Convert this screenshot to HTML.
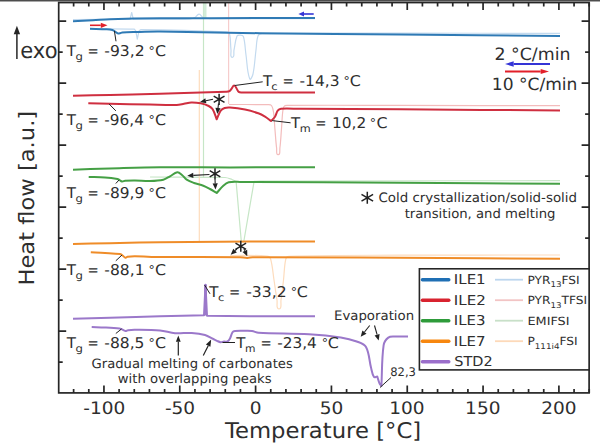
<!DOCTYPE html>
<html><head><meta charset="utf-8"><style>
html,body{margin:0;padding:0;background:#fff;}
svg{display:block;}
text{font-family:"DejaVu Sans","Liberation Sans",sans-serif;fill:#2e2e2e;}
</style></head><body>
<svg width="600" height="444" viewBox="0 0 600 444" text-rendering="geometricPrecision">
<rect x="0" y="0" width="600" height="444" fill="#fff"/>
<rect x="0" y="0" width="600" height="1" fill="#4d4d4d"/>
<rect x="0" y="1" width="600" height="1" fill="#a8a8a8"/>
<g fill="none" stroke-width="1.2" stroke-linejoin="round">
 <path stroke="#c3daef" d="M73.00 19.50C92.00 19.43 111.00 19.37 130.00 19.30C130.57 17.03 131.13 14.77 131.70 12.50C132.23 14.73 132.77 16.97 133.30 19.20C152.20 19.10 171.11 19.42 190.00 18.90C191.73 18.85 193.47 18.30 195.00 17.50C196.53 16.70 197.27 14.24 199.00 14.20C200.69 14.16 201.43 16.67 203.00 17.30C205.20 18.18 207.63 18.57 210.00 18.60C245.00 19.01 280.00 18.60 315.00 18.60"/>
 <path stroke="#c3daef" d="M90.00 28.80C104.67 28.93 119.35 28.50 134.00 29.20C134.85 29.24 135.20 30.40 135.80 31.00C136.30 33.73 136.80 36.47 137.30 39.20C137.87 36.47 138.43 33.73 139.00 31.00C139.67 30.53 140.19 29.59 141.00 29.60C169.34 29.86 197.68 30.55 226.00 31.80C227.27 31.86 229.06 32.28 229.40 33.50C230.86 38.83 230.33 44.51 231.00 50.00C231.30 52.45 229.83 57.30 232.30 57.30C234.80 57.30 233.46 52.44 234.00 50.00C235.03 45.34 235.21 40.42 237.00 36.00C237.39 35.04 238.97 35.12 240.00 35.20C241.21 35.29 243.05 35.34 243.40 36.50C245.21 42.46 245.08 48.84 246.00 55.00C247.18 62.97 246.91 71.34 249.70 78.90C250.38 80.75 252.58 75.92 253.00 74.00C254.72 66.12 254.95 57.99 256.00 50.00C256.61 45.33 256.38 40.43 258.00 36.00C258.53 34.54 260.45 33.63 262.00 33.60C307.99 32.69 354.00 33.23 400.00 33.20C453.33 33.16 506.67 33.33 560.00 33.40"/>
 <path stroke="#f6cccc" d="M228.60 2.50C228.60 36.33 228.60 70.17 228.60 104.00"/>
 <path stroke="#f3bcbc" d="M229.00 104.50C242.00 104.57 255.00 104.39 268.00 104.70C269.20 104.73 270.78 104.54 271.50 105.50C272.86 107.31 273.18 109.76 273.50 112.00C274.35 117.96 274.48 124.00 275.00 130.00C275.52 136.00 275.83 142.03 276.60 148.00C276.90 150.28 275.90 154.70 278.20 154.70C280.50 154.70 279.60 150.29 279.90 148.00C280.67 142.03 280.93 136.00 281.40 130.00C281.87 124.00 282.04 117.98 282.70 112.00C282.91 110.13 282.97 108.08 284.00 106.50C284.58 105.61 285.93 105.41 287.00 105.40C324.66 105.04 362.33 105.36 400.00 105.40C453.33 105.46 506.67 105.60 560.00 105.70"/>
 <path stroke="#c6e6c6" d="M203.50 2.50C203.50 61.00 203.50 119.50 203.50 178.00"/>
 <path stroke="#c6e6c6" d="M150.00 177.00C175.00 177.17 200.01 176.74 225.00 177.50C227.43 177.57 229.71 178.70 232.00 179.50C233.42 180.00 234.73 180.77 236.10 181.40C237.83 201.43 239.57 221.47 241.30 241.50C242.13 241.50 242.97 241.50 243.80 241.50C247.23 221.47 250.67 201.43 254.10 181.40C256.07 181.27 258.03 181.00 260.00 181.00C360.00 180.77 460.00 180.80 560.00 180.70"/>
 <path stroke="#fddcbd" d="M199.30 70.00C199.30 127.20 199.30 184.40 199.30 241.60"/>
 <path stroke="#fddcbd" d="M230.00 255.50C242.33 255.67 254.71 254.94 267.00 256.00C268.56 256.13 270.16 257.50 270.60 259.00C272.59 265.81 272.91 272.99 274.00 280.00C275.04 286.66 275.85 293.36 277.00 300.00C277.52 303.03 275.93 309.00 279.00 309.00C282.07 309.00 280.53 303.04 281.00 300.00C282.03 293.36 282.72 286.67 283.50 280.00C284.32 273.01 284.21 265.86 285.80 259.00C286.12 257.64 287.61 256.35 289.00 256.30C325.98 255.07 363.00 255.38 400.00 255.20C453.33 254.94 506.67 255.07 560.00 255.00"/>
 <path stroke="#d3ecd8" stroke-width="3" d="M205 2.5 L205 18"/>
</g>
<g fill="none" stroke-width="2" stroke-linejoin="round" stroke-linecap="butt">
 <path stroke="#2f7ab5" d="M73.00 21.20C79.67 20.90 86.34 20.66 93.00 20.30C98.67 19.99 104.32 19.37 110.00 19.20C126.66 18.70 143.33 18.42 160.00 18.30C193.33 18.06 226.67 18.14 260.00 18.10C278.33 18.08 296.67 18.10 315.00 18.10"/>
 <path stroke="#2f7ab5" d="M90.00 28.80C95.57 28.97 101.14 29.08 106.70 29.30C107.80 29.34 108.92 29.38 110.00 29.60C111.43 29.89 112.87 30.20 114.20 30.80C114.91 31.12 115.36 31.85 116.00 32.30C116.63 32.75 117.33 33.10 118.00 33.50C118.67 33.40 119.34 33.35 120.00 33.20C120.78 33.02 121.50 32.56 122.30 32.50C126.52 32.16 130.76 32.10 135.00 32.00C143.33 31.80 151.67 31.52 160.00 31.60C193.34 31.92 226.67 32.78 260.00 33.20C306.67 33.78 353.33 34.18 400.00 34.60C453.33 35.08 506.67 35.47 560.00 35.90"/>
 <path stroke="#cf2f40" d="M73.00 95.70C85.33 95.47 97.67 95.28 110.00 95.00C126.67 94.62 143.33 94.16 160.00 93.70C182.00 93.09 204.01 92.59 226.00 91.80C227.18 91.76 228.49 91.81 229.50 91.20C230.56 90.56 231.02 89.25 231.80 88.30C232.58 87.35 232.97 85.45 234.20 85.50C235.48 85.55 235.86 87.45 236.60 88.50C237.37 89.59 237.62 91.12 238.70 91.90C239.60 92.55 240.89 92.37 242.00 92.40C248.00 92.54 254.00 92.40 260.00 92.40C278.33 92.40 296.67 92.40 315.00 92.40"/>
 <path stroke="#cf2f40" d="M88.30 103.30C95.53 103.43 102.77 103.55 110.00 103.70C123.33 103.98 136.67 104.34 150.00 104.60C158.90 104.77 167.80 105.21 176.70 105.00C179.17 104.94 181.57 104.23 184.00 103.80C186.44 103.37 188.82 102.47 191.30 102.40C194.45 102.31 197.62 102.66 200.70 103.30C203.46 103.87 206.18 104.74 208.70 106.00C210.25 106.77 211.81 107.82 212.70 109.30C214.55 112.38 215.37 115.97 216.70 119.30C218.03 116.43 218.87 113.28 220.70 110.70C221.63 109.39 223.18 108.52 224.70 108.00C226.38 107.42 228.23 107.36 230.00 107.50C235.03 107.90 240.05 108.59 245.00 109.60C249.51 110.52 253.96 111.76 258.30 113.30C260.66 114.14 262.86 115.40 265.00 116.70C267.10 117.98 269.00 119.57 271.00 121.00C272.33 119.57 273.93 118.34 275.00 116.70C276.20 114.86 276.38 112.45 277.70 110.70C278.47 109.67 279.72 108.81 281.00 108.70C287.31 108.16 293.67 108.77 300.00 108.80C333.33 108.97 366.67 109.08 400.00 109.30C453.33 109.65 506.67 110.10 560.00 110.50"/>
 <path stroke="#45a045" d="M73.00 169.70C85.33 169.30 97.67 168.85 110.00 168.50C126.67 168.02 143.33 167.35 160.00 167.20C183.33 166.99 206.67 167.40 230.00 167.40C258.33 167.40 286.67 167.27 315.00 167.20"/>
 <path stroke="#45a045" d="M88.70 177.00C94.13 177.17 99.58 177.12 105.00 177.50C109.19 177.79 113.36 178.29 117.50 179.00C118.23 179.13 118.85 179.64 119.50 180.00C120.35 180.47 121.04 181.36 122.00 181.50C123.02 181.65 123.98 180.88 125.00 180.80C128.33 180.54 131.67 180.47 135.00 180.50C140.00 180.54 145.00 181.14 150.00 181.00C154.45 180.87 158.96 180.72 163.30 179.70C165.74 179.13 167.79 177.47 170.00 176.30C172.45 175.00 174.54 172.60 177.30 172.30C179.10 172.11 180.58 173.88 182.00 175.00C183.74 176.37 184.86 178.47 186.70 179.70C188.92 181.18 191.49 182.09 194.00 183.00C197.04 184.10 200.28 184.57 203.30 185.70C205.63 186.57 207.81 187.81 210.00 189.00C212.28 190.24 214.47 191.67 216.70 193.00C218.90 190.57 220.85 187.88 223.30 185.70C224.89 184.28 226.63 182.77 228.70 182.30C232.38 181.46 236.23 181.89 240.00 181.90C293.33 182.06 346.67 182.50 400.00 182.80C453.33 183.10 506.67 183.40 560.00 183.70"/>
 <path stroke="#ef8c28" d="M73.00 244.00C85.33 243.73 97.67 243.44 110.00 243.20C126.67 242.87 143.33 242.49 160.00 242.30C190.00 241.96 220.00 241.74 250.00 241.60C271.67 241.50 293.33 241.60 315.00 241.60"/>
 <path stroke="#ef8c28" d="M90.80 252.30C95.53 252.53 100.27 252.72 105.00 253.00C110.00 253.29 115.02 253.41 120.00 254.00C120.74 254.09 121.38 254.58 122.00 255.00C123.22 255.82 124.10 257.24 125.50 257.70C126.19 257.93 126.78 256.91 127.50 256.80C129.98 256.43 132.49 256.28 135.00 256.30C143.34 256.35 151.66 256.93 160.00 257.00C186.67 257.23 213.33 256.89 240.00 257.20C242.45 257.23 244.85 258.00 247.30 258.00C249.12 258.00 250.88 257.20 252.70 257.20C301.80 257.14 350.90 257.56 400.00 257.80C453.33 258.06 506.67 258.40 560.00 258.70"/>
 <path stroke="#9b78ca" d="M73.00 318.70C85.33 318.37 97.67 318.04 110.00 317.70C126.67 317.24 143.33 316.74 160.00 316.30C174.67 315.91 189.33 315.57 204.00 315.20C204.50 305.07 205.00 294.93 205.50 284.80C206.00 295.13 206.50 305.47 207.00 315.80C221.33 315.93 235.67 316.15 250.00 316.20C271.67 316.28 293.33 316.20 315.00 316.20"/>
 <path stroke="#9b78ca" d="M91.70 327.00C96.13 327.17 100.57 327.26 105.00 327.50C109.84 327.76 114.68 328.00 119.50 328.50C120.20 328.57 120.85 328.93 121.50 329.20C122.85 329.76 124.05 330.78 125.50 331.00C126.36 331.13 127.13 330.31 128.00 330.20C130.32 329.91 132.66 329.78 135.00 329.80C143.34 329.88 151.69 329.79 160.00 330.50C165.06 330.93 169.94 332.80 175.00 333.20C180.55 333.64 186.14 332.67 191.70 333.00C196.18 333.27 200.68 333.80 205.00 335.00C207.96 335.82 210.53 337.66 213.30 339.00C214.53 339.60 215.75 340.24 217.00 340.80C218.15 341.31 219.25 342.06 220.50 342.20C221.68 342.33 222.82 341.72 224.00 341.60C225.16 341.48 226.46 342.04 227.50 341.50C228.66 340.90 229.38 339.64 230.00 338.50C231.06 336.54 231.26 334.15 232.50 332.30C233.02 331.52 234.07 331.11 235.00 331.00C238.31 330.60 241.67 330.80 245.00 330.80C247.33 330.80 249.69 330.67 252.00 331.00C254.22 331.31 256.26 332.57 258.50 332.70C275.31 333.64 292.19 333.24 309.00 334.20C319.64 334.81 330.27 335.79 340.80 337.40C346.21 338.23 351.59 339.55 356.70 341.50C360.07 342.78 364.26 343.84 366.00 347.00C369.39 353.16 369.19 360.70 371.00 367.50C371.86 370.71 372.10 374.28 374.00 377.00C374.62 377.89 376.13 376.60 377.20 376.40C377.97 378.70 378.53 381.08 379.50 383.30C379.94 384.31 380.77 385.10 381.40 386.00C382.13 372.43 381.68 358.75 383.60 345.30C384.02 342.32 385.93 339.45 388.30 337.60C390.00 336.27 392.54 336.71 394.70 336.60C399.13 336.38 403.57 336.60 408.00 336.60"/>
 <path fill="#9b78ca" stroke="none" d="M204.1 315.5 L204.2 284.6 L206.8 284.6 L206.9 315.5 Z"/>
</g>
<g fill="none" stroke="#262626" stroke-width="1.7">
 <rect x="58.7" y="2.55" width="530.4" height="390.35"/>
 <path d="M73.62 392.9V388.9 M73.62 2.55V6.55 M88.79 392.9V388.9 M88.79 2.55V6.55 M103.95 392.9V385.4 M103.95 2.55V10.05 M119.11 392.9V388.9 M119.11 2.55V6.55 M134.28 392.9V388.9 M134.28 2.55V6.55 M149.44 392.9V388.9 M149.44 2.55V6.55 M164.61 392.9V388.9 M164.61 2.55V6.55 M179.77 392.9V385.4 M179.77 2.55V10.05 M194.94 392.9V388.9 M194.94 2.55V6.55 M210.10 392.9V388.9 M210.10 2.55V6.55 M225.27 392.9V388.9 M225.27 2.55V6.55 M240.43 392.9V388.9 M240.43 2.55V6.55 M255.60 392.9V385.4 M255.60 2.55V10.05 M270.76 392.9V388.9 M270.76 2.55V6.55 M285.93 392.9V388.9 M285.93 2.55V6.55 M301.09 392.9V388.9 M301.09 2.55V6.55 M316.26 392.9V388.9 M316.26 2.55V6.55 M331.43 392.9V385.4 M331.43 2.55V10.05 M346.59 392.9V388.9 M346.59 2.55V6.55 M361.75 392.9V388.9 M361.75 2.55V6.55 M376.92 392.9V388.9 M376.92 2.55V6.55 M392.08 392.9V388.9 M392.08 2.55V6.55 M407.25 392.9V385.4 M407.25 2.55V10.05 M422.41 392.9V388.9 M422.41 2.55V6.55 M437.58 392.9V388.9 M437.58 2.55V6.55 M452.75 392.9V388.9 M452.75 2.55V6.55 M467.91 392.9V388.9 M467.91 2.55V6.55 M483.07 392.9V385.4 M483.07 2.55V10.05 M498.24 392.9V388.9 M498.24 2.55V6.55 M513.40 392.9V388.9 M513.40 2.55V6.55 M528.57 392.9V388.9 M528.57 2.55V6.55 M543.74 392.9V388.9 M543.74 2.55V6.55 M558.90 392.9V385.4 M558.90 2.55V10.05 M574.07 392.9V388.9 M574.07 2.55V6.55 M589.23 392.9V388.9 M589.23 2.55V6.55 M58.7 21.10H66.2 M589.1 21.10H581.6 M58.7 52.10H62.7 M589.1 52.10H585.1 M58.7 83.10H66.2 M589.1 83.10H581.6 M58.7 114.10H62.7 M589.1 114.10H585.1 M58.7 145.10H66.2 M589.1 145.10H581.6 M58.7 176.10H62.7 M589.1 176.10H585.1 M58.7 207.10H66.2 M589.1 207.10H581.6 M58.7 238.10H62.7 M589.1 238.10H585.1 M58.7 269.10H66.2 M589.1 269.10H581.6 M58.7 300.10H62.7 M589.1 300.10H585.1 M58.7 331.10H66.2 M589.1 331.10H581.6 M58.7 362.10H62.7 M589.1 362.10H585.1" stroke-width="1.7"/>
</g>
<text x="83.21" y="414" font-size="17.3" textLength="42.01" lengthAdjust="spacingAndGlyphs">-100</text>
<text x="164.92" y="414" font-size="17.3" textLength="30.23" lengthAdjust="spacingAndGlyphs">-50</text>
<text x="249.82" y="414" font-size="17.3" textLength="11.78" lengthAdjust="spacingAndGlyphs">0</text>
<text x="319.65" y="414" font-size="17.3" textLength="23.55" lengthAdjust="spacingAndGlyphs">50</text>
<text x="389.28" y="414" font-size="17.3" textLength="35.33" lengthAdjust="spacingAndGlyphs">100</text>
<text x="465.11" y="414" font-size="17.3" textLength="35.33" lengthAdjust="spacingAndGlyphs">150</text>
<text x="541.27" y="414" font-size="17.3" textLength="35.33" lengthAdjust="spacingAndGlyphs">200</text>
<path d="M16.9 59 V32" stroke="#262626" stroke-width="1.5"/>
<path d="M13.7 34.2 L16.9 25.7 L20.1 34.2 Z" fill="#262626"/>
<text x="91.56" y="367.6" font-size="12.9" textLength="201.28" lengthAdjust="spacingAndGlyphs">Gradual melting of carbonates</text>
<text x="117.75" y="383.4" font-size="12.9" textLength="153.80" lengthAdjust="spacingAndGlyphs">with overlapping peaks</text>
<text x="333.99" y="319.6" font-size="13" textLength="80.14" lengthAdjust="spacingAndGlyphs">Evaporation</text>
<text x="390.22" y="375.5" font-size="11.8" textLength="25.71" lengthAdjust="spacingAndGlyphs">82,3</text>
<text x="494.43" y="59.5" font-size="17" textLength="76.05" lengthAdjust="spacingAndGlyphs">2 °C/min</text>
<text x="491.82" y="90.3" font-size="16.8" textLength="85.63" lengthAdjust="spacingAndGlyphs">10 °C/min</text>
<text x="378.45" y="202.4" font-size="13" textLength="198.57" lengthAdjust="spacingAndGlyphs">Cold crystallization/solid-solid</text>
<text x="404.65" y="217.6" font-size="13" textLength="150.76" lengthAdjust="spacingAndGlyphs">transition, and melting</text>
<text x="224.97" y="437.8" font-size="21.7" textLength="196.15" lengthAdjust="spacingAndGlyphs">Temperature [°C]</text>
<text x="20.27" y="57.5" font-size="22" textLength="37.25" lengthAdjust="spacingAndGlyphs">exo</text>
<text x="-2.22" y="0" transform="translate(34.2,283.4) rotate(-90)" font-size="21.1" textLength="174.76" lengthAdjust="spacingAndGlyphs">Heat flow [a.u.]</text>
<text x="66.84" y="56" font-size="14.8" textLength="9.21" lengthAdjust="spacingAndGlyphs">T</text>
<text x="75.46" y="59.7" font-size="10.2" textLength="7.40" lengthAdjust="spacingAndGlyphs">g</text>
<text x="87.38" y="56" font-size="14.8" textLength="11.24" lengthAdjust="spacingAndGlyphs">=</text>
<text x="104.34" y="56" font-size="14.9" textLength="40.32" lengthAdjust="spacingAndGlyphs">-93,2</text>
<text x="148.60" y="55.1" font-size="12" textLength="6.30" lengthAdjust="spacingAndGlyphs">°</text>
<text x="154.91" y="56" font-size="14.9" textLength="11.05" lengthAdjust="spacingAndGlyphs">C</text>
<text x="66.84" y="125" font-size="14.8" textLength="9.21" lengthAdjust="spacingAndGlyphs">T</text>
<text x="75.46" y="128.7" font-size="10.2" textLength="7.40" lengthAdjust="spacingAndGlyphs">g</text>
<text x="87.38" y="125" font-size="14.8" textLength="11.24" lengthAdjust="spacingAndGlyphs">=</text>
<text x="104.35" y="125" font-size="14.9" textLength="39.61" lengthAdjust="spacingAndGlyphs">-96,4</text>
<text x="148.60" y="124.1" font-size="12" textLength="6.30" lengthAdjust="spacingAndGlyphs">°</text>
<text x="154.91" y="125" font-size="14.9" textLength="11.05" lengthAdjust="spacingAndGlyphs">C</text>
<text x="66.84" y="198" font-size="14.8" textLength="9.21" lengthAdjust="spacingAndGlyphs">T</text>
<text x="75.46" y="201.7" font-size="10.2" textLength="7.40" lengthAdjust="spacingAndGlyphs">g</text>
<text x="87.38" y="198" font-size="14.8" textLength="11.24" lengthAdjust="spacingAndGlyphs">=</text>
<text x="104.35" y="198" font-size="14.9" textLength="39.83" lengthAdjust="spacingAndGlyphs">-89,9</text>
<text x="148.60" y="197.1" font-size="12" textLength="6.30" lengthAdjust="spacingAndGlyphs">°</text>
<text x="154.91" y="198" font-size="14.9" textLength="11.05" lengthAdjust="spacingAndGlyphs">C</text>
<text x="66.84" y="275" font-size="14.8" textLength="9.21" lengthAdjust="spacingAndGlyphs">T</text>
<text x="75.46" y="278.7" font-size="10.2" textLength="7.40" lengthAdjust="spacingAndGlyphs">g</text>
<text x="87.38" y="275" font-size="14.8" textLength="11.24" lengthAdjust="spacingAndGlyphs">=</text>
<text x="104.34" y="275" font-size="14.9" textLength="40.19" lengthAdjust="spacingAndGlyphs">-88,1</text>
<text x="148.60" y="274.1" font-size="12" textLength="6.30" lengthAdjust="spacingAndGlyphs">°</text>
<text x="154.91" y="275" font-size="14.9" textLength="11.05" lengthAdjust="spacingAndGlyphs">C</text>
<text x="66.84" y="348" font-size="14.8" textLength="9.21" lengthAdjust="spacingAndGlyphs">T</text>
<text x="75.46" y="351.7" font-size="10.2" textLength="7.40" lengthAdjust="spacingAndGlyphs">g</text>
<text x="87.38" y="348" font-size="14.8" textLength="11.24" lengthAdjust="spacingAndGlyphs">=</text>
<text x="104.34" y="348" font-size="14.9" textLength="40.11" lengthAdjust="spacingAndGlyphs">-88,5</text>
<text x="148.60" y="347.1" font-size="12" textLength="6.30" lengthAdjust="spacingAndGlyphs">°</text>
<text x="154.91" y="348" font-size="14.9" textLength="11.05" lengthAdjust="spacingAndGlyphs">C</text>
<text x="263.04" y="86" font-size="14.8" textLength="9.21" lengthAdjust="spacingAndGlyphs">T</text>
<text x="271.36" y="89.7" font-size="10.2" textLength="6.35" lengthAdjust="spacingAndGlyphs">c</text>
<text x="282.58" y="86" font-size="14.8" textLength="11.24" lengthAdjust="spacingAndGlyphs">=</text>
<text x="299.55" y="86" font-size="14.9" textLength="39.99" lengthAdjust="spacingAndGlyphs">-14,3</text>
<text x="343.60" y="85.1" font-size="12" textLength="6.30" lengthAdjust="spacingAndGlyphs">°</text>
<text x="349.81" y="86" font-size="14.9" textLength="11.05" lengthAdjust="spacingAndGlyphs">C</text>
<text x="209.34" y="297" font-size="14.8" textLength="9.21" lengthAdjust="spacingAndGlyphs">T</text>
<text x="218.06" y="300.7" font-size="10.2" textLength="6.35" lengthAdjust="spacingAndGlyphs">c</text>
<text x="228.88" y="297" font-size="14.8" textLength="11.24" lengthAdjust="spacingAndGlyphs">=</text>
<text x="246.24" y="297" font-size="14.9" textLength="40.32" lengthAdjust="spacingAndGlyphs">-33,2</text>
<text x="290.80" y="296.1" font-size="12" textLength="6.30" lengthAdjust="spacingAndGlyphs">°</text>
<text x="296.81" y="297" font-size="14.9" textLength="11.05" lengthAdjust="spacingAndGlyphs">C</text>
<text x="291.04" y="128" font-size="14.8" textLength="9.21" lengthAdjust="spacingAndGlyphs">T</text>
<text x="299.68" y="131.7" font-size="10.2" textLength="10.98" lengthAdjust="spacingAndGlyphs">m</text>
<text x="315.28" y="128" font-size="14.8" textLength="11.24" lengthAdjust="spacingAndGlyphs">=</text>
<text x="332.01" y="128" font-size="14.9" textLength="34.23" lengthAdjust="spacingAndGlyphs">10,2</text>
<text x="369.80" y="127.1" font-size="12" textLength="6.30" lengthAdjust="spacingAndGlyphs">°</text>
<text x="376.41" y="128" font-size="14.9" textLength="11.05" lengthAdjust="spacingAndGlyphs">C</text>
<text x="236.34" y="348" font-size="14.8" textLength="9.21" lengthAdjust="spacingAndGlyphs">T</text>
<text x="245.02" y="351.7" font-size="10.2" textLength="10.49" lengthAdjust="spacingAndGlyphs">m</text>
<text x="260.58" y="348" font-size="14.8" textLength="11.24" lengthAdjust="spacingAndGlyphs">=</text>
<text x="277.25" y="348" font-size="14.9" textLength="39.61" lengthAdjust="spacingAndGlyphs">-23,4</text>
<text x="321.80" y="347.1" font-size="12" textLength="6.30" lengthAdjust="spacingAndGlyphs">°</text>
<text x="327.81" y="348" font-size="14.9" textLength="11.05" lengthAdjust="spacingAndGlyphs">C</text>
<g fill="none" stroke="#222" stroke-width="1"><path d="M114.4 31 L116 41.3"/><path d="M109.1 104 L115.9 110.9"/><path d="M119 180 L115.8 183.5"/><path d="M122 255 L115.8 260.8"/><path d="M121.5 329 L115.8 333.5"/><path d="M234.7 85.5 L262.7 81.8"/><path d="M272.2 120.6 L290.6 122.8"/><path d="M204.6 285 L210 293.8"/><path d="M222.5 342.5 L235 342.5"/><path d="M380 387.5 L391 377.5"/></g>
<path d="M550.0 64.0L513.7 64.0" stroke="#3434d6" stroke-width="2" fill="none"/><path d="M505.0 64.0L513.7 61.2L513.7 66.8Z" fill="#3434d6"/>
<path d="M505.0 71.5L540.7 71.5" stroke="#e2202a" stroke-width="2" fill="none"/><path d="M549.0 71.5L540.7 74.1L540.7 68.9Z" fill="#e2202a"/>
<path d="M313.7 14.0L304.0 14.0" stroke="#3434d6" stroke-width="1.6" fill="none"/><path d="M298.4 14.0L304.0 11.5L304.0 16.5Z" fill="#3434d6"/>
<path d="M90.0 25.3L100.8 25.3" stroke="#e2202a" stroke-width="1.6" fill="none"/><path d="M107.5 25.3L100.8 27.9L100.8 22.7Z" fill="#e2202a"/>
<path d="M213.0 99.2L205.9 100.7" stroke="#222" stroke-width="1.1" fill="none"/><path d="M200.0 102.0L205.3 98.2L206.4 103.3Z" fill="#222"/>
<path d="M218.5 103.5L218.0 108.0" stroke="#222" stroke-width="1.1" fill="none"/><path d="M217.3 114.0L215.4 107.7L220.6 108.3Z" fill="#222"/>
<path d="M209.5 174.5L193.3 175.4" stroke="#222" stroke-width="1.1" fill="none"/><path d="M187.3 175.7L193.2 172.8L193.4 178.0Z" fill="#222"/>
<path d="M215.0 179.0L215.2 183.4" stroke="#222" stroke-width="1.1" fill="none"/><path d="M215.5 189.4L212.6 183.5L217.8 183.3Z" fill="#222"/>
<path d="M236.8 249.0L235.1 250.6" stroke="#222" stroke-width="1.1" fill="none"/><path d="M230.7 254.7L233.3 248.7L236.9 252.5Z" fill="#222"/>
<path d="M244.0 249.0L244.8 250.8" stroke="#222" stroke-width="1.1" fill="none"/><path d="M247.3 256.3L242.5 251.9L247.2 249.8Z" fill="#222"/>
<path d="M178.3 355.4L178.3 341.7" stroke="#222" stroke-width="1.2" fill="none"/><path d="M178.3 335.4L180.7 341.7L175.9 341.7Z" fill="#222"/>
<path d="M203.3 355.4L208.2 345.7" stroke="#222" stroke-width="1.2" fill="none"/><path d="M211.2 339.6L210.4 346.8L205.9 344.6Z" fill="#222"/>
<path d="M369.7 325.5L364.5 332.0" stroke="#222" stroke-width="1.1" fill="none"/><path d="M360.7 336.7L362.4 330.4L366.5 333.7Z" fill="#222"/>
<path d="M374.5 325.5L377.1 334.7" stroke="#222" stroke-width="1.1" fill="none"/><path d="M378.7 340.5L374.6 335.4L379.6 334.0Z" fill="#222"/>
<path d="M219.1 93.7L219.1 104.9M224.5 96.2L213.7 102.4M224.5 102.4L213.7 96.2" stroke="#222" stroke-width="1.5" fill="none"/>
<path d="M215.0 168.3L215.0 179.3M220.3 170.7L209.7 176.9M220.3 176.9L209.7 170.7" stroke="#222" stroke-width="1.5" fill="none"/>
<path d="M240.8 240.7L240.8 251.7M246.1 243.1L235.5 249.3M246.1 249.3L235.5 243.1" stroke="#222" stroke-width="1.5" fill="none"/>
<path d="M367.3 191.8L367.3 203.8M373.1 194.4L361.5 201.2M373.1 201.2L361.5 194.4" stroke="#222" stroke-width="1.5" fill="none"/>
<rect x="419.4" y="268.8" width="169.7" height="101.1" fill="#fff" stroke="#262626" stroke-width="1.6"/>
<path d="M422.4 279.7H448.8" stroke="#1f6fb4" stroke-width="3.4" stroke-linecap="round"/>
<text x="453.83" y="284.0" font-size="13.6" textLength="31.86" lengthAdjust="spacingAndGlyphs">ILE1</text>
<path d="M422.4 300.2H448.8" stroke="#d8232f" stroke-width="3.4" stroke-linecap="round"/>
<text x="453.82" y="304.5" font-size="13.6" textLength="31.99" lengthAdjust="spacingAndGlyphs">ILE2</text>
<path d="M422.4 320.7H448.8" stroke="#2e9b3a" stroke-width="3.4" stroke-linecap="round"/>
<text x="453.83" y="325.0" font-size="13.6" textLength="31.66" lengthAdjust="spacingAndGlyphs">ILE3</text>
<path d="M422.4 341.2H448.8" stroke="#f7870f" stroke-width="3.4" stroke-linecap="round"/>
<text x="453.83" y="345.5" font-size="13.6" textLength="31.75" lengthAdjust="spacingAndGlyphs">ILE7</text>
<path d="M422.4 361.7H448.8" stroke="#9b6fcb" stroke-width="3.4" stroke-linecap="round"/>
<text x="454.35" y="366.0" font-size="13.6" textLength="38.30" lengthAdjust="spacingAndGlyphs">STD2</text>
<path d="M495 279.7H523" stroke="#bcd6ee" stroke-width="1.8"/>
<path d="M495 300.2H523" stroke="#f2c4c4" stroke-width="1.8"/>
<path d="M495 320.7H523" stroke="#c8e0c8" stroke-width="1.8"/>
<path d="M495 341.2H523" stroke="#fdd9b9" stroke-width="1.8"/>
<text x="527.4" y="283.9" font-size="11.2" textLength="52.3" lengthAdjust="spacingAndGlyphs">PYR<tspan font-size="8" dy="3.4">13</tspan><tspan dy="-3.4">FSI</tspan></text>
<text x="527.4" y="304.4" font-size="11.2" textLength="59.8" lengthAdjust="spacingAndGlyphs">PYR<tspan font-size="8" dy="3.4">13</tspan><tspan dy="-3.4">TFSI</tspan></text>
<text x="527.45" y="324.9" font-size="11.2" textLength="42.11" lengthAdjust="spacingAndGlyphs">EMIFSI</text>
<text x="527.4" y="345.4" font-size="11.2" textLength="50.3" lengthAdjust="spacingAndGlyphs">P<tspan font-size="8" dy="3.4">111i4</tspan><tspan dy="-3.4">FSI</tspan></text>
</svg>
</body></html>
